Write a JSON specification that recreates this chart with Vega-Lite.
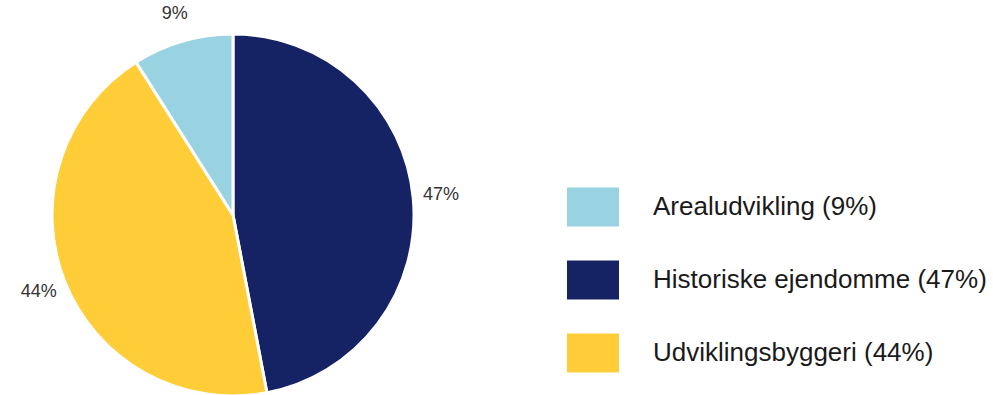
{
  "$schema": "https://vega.github.io/schema/vega-lite/v6.json",
  "width": 466,
  "height": 360,
  "autosize": {"type": "none"},
  "padding": {"left": 0, "top": 35, "right": 527, "bottom": 0},
  "background": "white",
  "config": {"view": {"stroke": null}, "font": "Liberation Sans"},
  "data": {
    "values": [
      {"category": "Historiske ejendomme (47%)", "value": 47, "pct": "47%", "o": 1},
      {"category": "Udviklingsbyggeri (44%)", "value": 44, "pct": "44%", "o": 2},
      {"category": "Arealudvikling (9%)", "value": 9, "pct": "9%", "o": 3}
    ]
  },
  "encoding": {
    "theta": {"field": "value", "type": "quantitative", "stack": true},
    "order": {"field": "o", "type": "quantitative"}
  },
  "layer": [
    {
      "mark": {"type": "arc", "outerRadius": 181, "stroke": "white", "strokeWidth": 3},
      "encoding": {
        "color": {
          "field": "category",
          "type": "nominal",
          "scale": {
            "domain": ["Arealudvikling (9%)", "Historiske ejendomme (47%)", "Udviklingsbyggeri (44%)"],
            "range": ["#99D3E2", "#152264", "#FFCD38"]
          },
          "legend": {
            "title": null,
            "orient": "none",
            "legendX": 567,
            "legendY": 146,
            "padding": 0,
            "symbolType": "M-1,-0.75H1V0.75H-1Z",
            "symbolSize": 2704,
            "symbolStrokeWidth": 0,
            "symbolOpacity": 1,
            "labelFontSize": 26,
            "labelFont": "Liberation Sans",
            "labelColor": "#1a1a1a",
            "labelOffset": 34,
            "labelLimit": 400,
            "rowPadding": 27
          }
        }
      }
    },
    {
      "mark": {"type": "text", "radius": 209, "fontSize": 18, "fill": "#333333", "font": "Liberation Sans"},
      "encoding": {"text": {"field": "pct", "type": "nominal"}}
    }
  ]
}
